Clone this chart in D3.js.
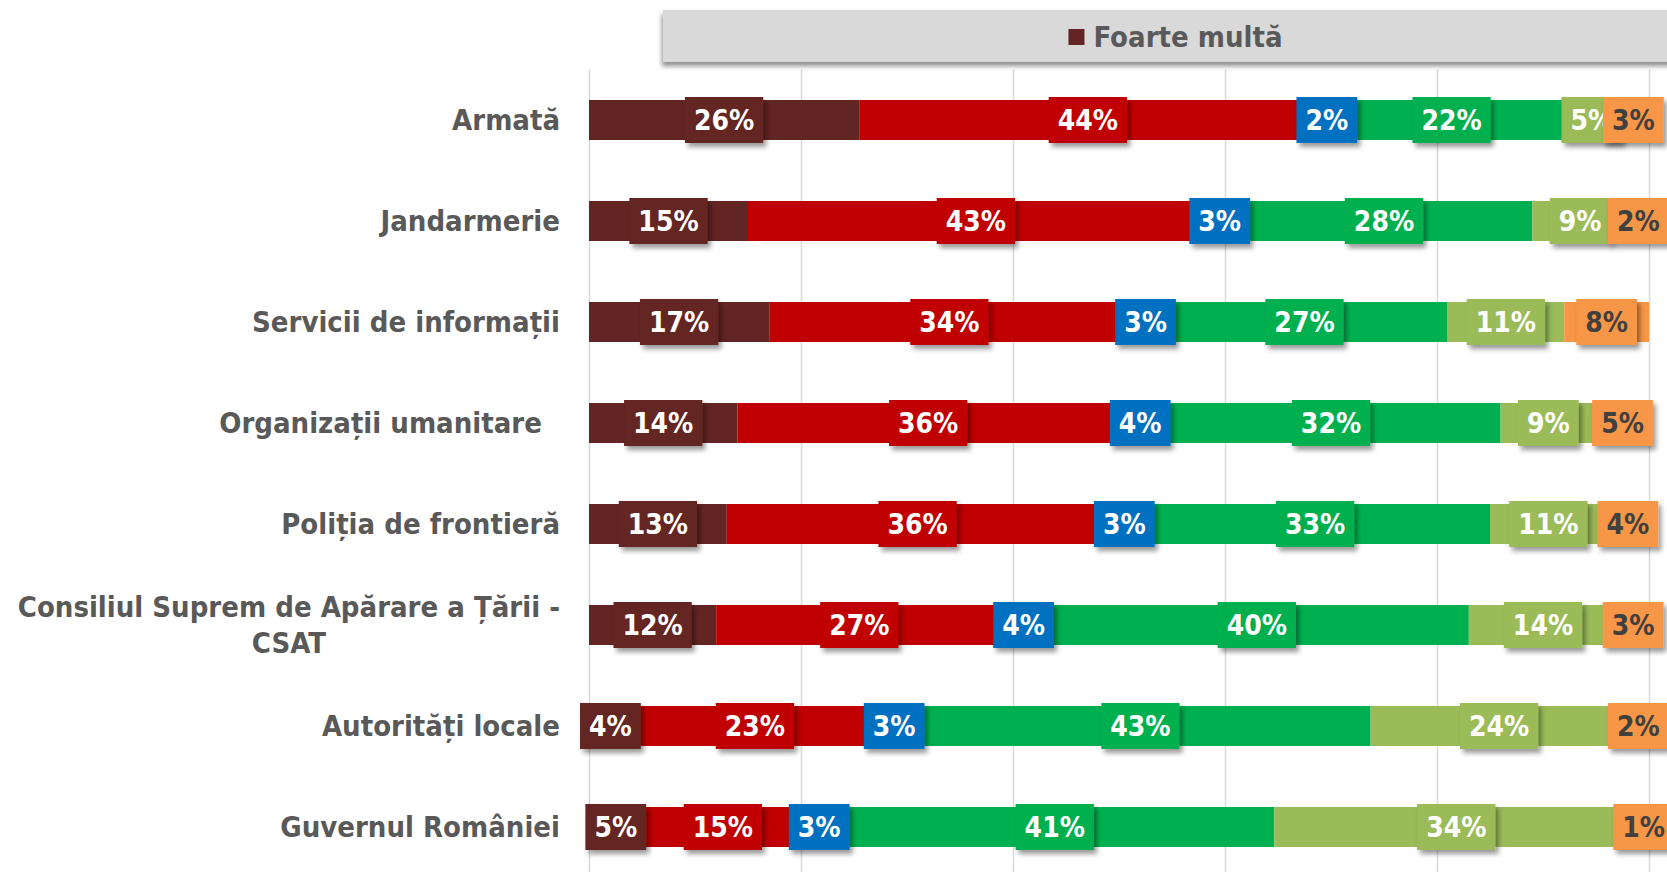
<!DOCTYPE html>
<html>
<head>
<meta charset="utf-8">
<script src="https://cdn.jsdelivr.net/npm/d3@7"></script>
<style>
  body { margin: 0; background: #fff; }
  svg { display: block; font-family: "DejaVu Sans Condensed", "DejaVu Sans", sans-serif; font-weight: bold; }
</style>
</head>
<body>
<svg id="chart" width="1667" height="872"></svg>
<script>
// categories, top to bottom
var categories = [
  'Armată',
  'Jandarmerie',
  'Servicii de informații',
  'Organizații umanitare ',
  'Poliția de frontieră',
  'Consiliul Suprem de Apărare a Țării - CSAT',
  'Autorități locale',
  'Guvernul României'
];

// series, left to right (only the first one is visible in the legend)
var seriesNames = ['Foarte multă', 'Multă', 'NS/NR', 'Puțină', 'Foarte puțină', 'Deloc'];
var seriesColors = ['#632523', '#c00000', '#0070c0', '#00b050', '#9bbb59', '#f79646'];
var labelColors = ['#fff', '#fff', '#fff', '#fff', '#fff', '#404040'];

// percentages as printed on the labels
var foarteMulta = [26, 15, 17, 14, 13, 12, 4, 5];
var multa = [44, 43, 34, 36, 36, 27, 23, 15];
var nsnr = [2, 3, 3, 4, 3, 4, 3, 3];
var putina = [22, 28, 27, 32, 33, 40, 43, 41];
var foartePutina = [5, 9, 11, 9, 11, 14, 24, 34];
var deloc = [3, 2, 8, 5, 4, 3, 2, 1];

var seriesValues = [foarteMulta, multa, nsnr, putina, foartePutina, deloc];

var svg = d3.select('#chart');
var width = +svg.attr('width');
var height = +svg.attr('height');

// plot area: 0% at the axis, 100% at the last gridline
var x = d3.scaleLinear()
  .domain([0, 1])
  .range([589, 1649]);

var y = d3.scaleBand()
  .domain(categories)
  .range([69.5, 877.5])
  .paddingInner(0.604)
  .paddingOuter(0.302);

// one row object per category, then a 100% stack (like excel does)
var rows = categories.map(function (c, i) {
  var r = { category: c };
  seriesNames.forEach(function (s, j) {
    r[s] = seriesValues[j][i];
  });
  return r;
});

var layers = d3.stack()
  .keys(seriesNames)
  .offset(d3.stackOffsetExpand)(rows);

// shadows for the legend box and the data label boxes
var defs = svg.append('defs');
defs.append('filter')
  .attr('id', 'legendShadow')
  .attr('x', '-5%').attr('y', '-20%').attr('width', '110%').attr('height', '160%')
  .append('feDropShadow')
  .attr('dx', -1).attr('dy', 4).attr('stdDeviation', 2.5)
  .attr('flood-color', '#000').attr('flood-opacity', 0.45);
defs.append('filter')
  .attr('id', 'labelShadow')
  .attr('x', '-20%').attr('y', '-20%').attr('width', '150%').attr('height', '160%')
  .append('feDropShadow')
  .attr('dx', 3).attr('dy', 4).attr('stdDeviation', 2.5)
  .attr('flood-color', '#000').attr('flood-opacity', 0.4);

// vertical gridlines (the 0% one doubles as the axis line)
var grid = svg.append('g')
  .attr('transform', 'translate(0,' + y.range()[0] + ')')
  .call(d3.axisBottom(x)
    .ticks(5)
    .tickSize(y.range()[1] - y.range()[0])
    .tickFormat(''));
grid.select('.domain').remove();
grid.selectAll('line')
  .attr('stroke', '#d9d9d9')
  .attr('stroke-width', 1.5);

// stacked bars
svg.append('g')
  .selectAll('g')
  .data(layers)
  .join('g')
  .attr('fill', function (d, i) { return seriesColors[i]; })
  .selectAll('rect')
  .data(function (d) { return d; })
  .join('rect')
  .attr('x', function (d) { return x(d[0]); })
  .attr('y', function (d) { return y(d.data.category); })
  .attr('width', function (d) { return x(d[1]) - x(d[0]); })
  .attr('height', y.bandwidth());

// data labels: a filled box per segment, drawn after all bars
var labelLayer = svg.append('g');
layers.forEach(function (layer, i) {
  layer.forEach(function (d) {
    var cx = (x(d[0]) + x(d[1])) / 2;
    var cy = y(d.data.category) + y.bandwidth() / 2;
    var g = labelLayer.append('g')
      .attr('transform', 'translate(' + cx + ',' + cy + ')');
    var box = g.append('rect');
    var t = g.append('text')
      .attr('text-anchor', 'middle')
      .attr('dy', '0.36em')
      .attr('font-size', 28)
      .attr('fill', labelColors[i])
      .text(d.data[layer.key] + '%');
    var w = t.node().getComputedTextLength() + 18;
    var h = y.bandwidth() + 6;
    box.attr('x', -w / 2)
      .attr('y', -h / 2)
      .attr('width', w)
      .attr('height', h)
      .attr('fill', seriesColors[i])
      .attr('filter', 'url(#labelShadow)');
  });
});

// category labels, right aligned; wrapped labels are centred as a block
var labelRight = 560;
var maxLabelWidth = 555;
var catLayer = svg.append('g')
  .attr('fill', '#595959')
  .attr('font-size', 29);

categories.forEach(function (c) {
  var cy = y(c) + y.bandwidth() / 2;
  var probe = catLayer.append('text').style('white-space', 'pre');

  // simple word wrap
  var words = c.split(' ');
  var lines = [];
  var line = '';
  words.forEach(function (w) {
    var test = line ? line + ' ' + w : w;
    probe.text(test);
    if (line && probe.node().getComputedTextLength() > maxLabelWidth) {
      lines.push(line);
      line = w;
    } else {
      line = test;
    }
  });
  lines.push(line);
  if (c.slice(-1) === ' ') lines[lines.length - 1] += ' ';
  probe.remove();

  var lineHeight = 36;
  if (lines.length === 1) {
    catLayer.append('text')
      .style('white-space', 'pre')
      .attr('x', labelRight)
      .attr('y', cy)
      .attr('dy', '0.33em')
      .attr('text-anchor', 'end')
      .text(lines[0]);
  } else {
    var texts = lines.map(function (l, k) {
      return catLayer.append('text')
        .style('white-space', 'pre')
        .attr('y', cy + (k - (lines.length - 1) / 2) * lineHeight)
        .attr('dy', '0.33em')
        .attr('text-anchor', 'middle')
        .text(l);
    });
    var widest = d3.max(texts, function (t) { return t.node().getComputedTextLength(); });
    texts.forEach(function (t) { t.attr('x', labelRight - widest / 2); });
  }
});

// legend: grey box with shadow, only the first entry fits on the page
var legendBox = { x: 663, y: 10, w: 1025, h: 52 };
var legend = svg.append('g');
legend.append('rect')
  .attr('x', legendBox.x)
  .attr('y', legendBox.y)
  .attr('width', legendBox.w)
  .attr('height', legendBox.h)
  .attr('fill', '#d9d9d9')
  .attr('filter', 'url(#legendShadow)');

var entry = legend.append('g');
entry.append('rect')
  .attr('width', 16)
  .attr('height', 16)
  .attr('y', -8)
  .attr('fill', seriesColors[0]);
var legendText = entry.append('text')
  .attr('x', 25)
  .attr('dy', '0.36em')
  .attr('font-size', 29)
  .attr('fill', '#595959')
  .text(seriesNames[0]);
var entryWidth = 25 + legendText.node().getComputedTextLength();
entry.attr('transform', 'translate(' + (legendBox.x + (legendBox.w - entryWidth) / 2) + ',' + (legendBox.y + legendBox.h / 2 + 1) + ')');
</script>
</body>
</html>
